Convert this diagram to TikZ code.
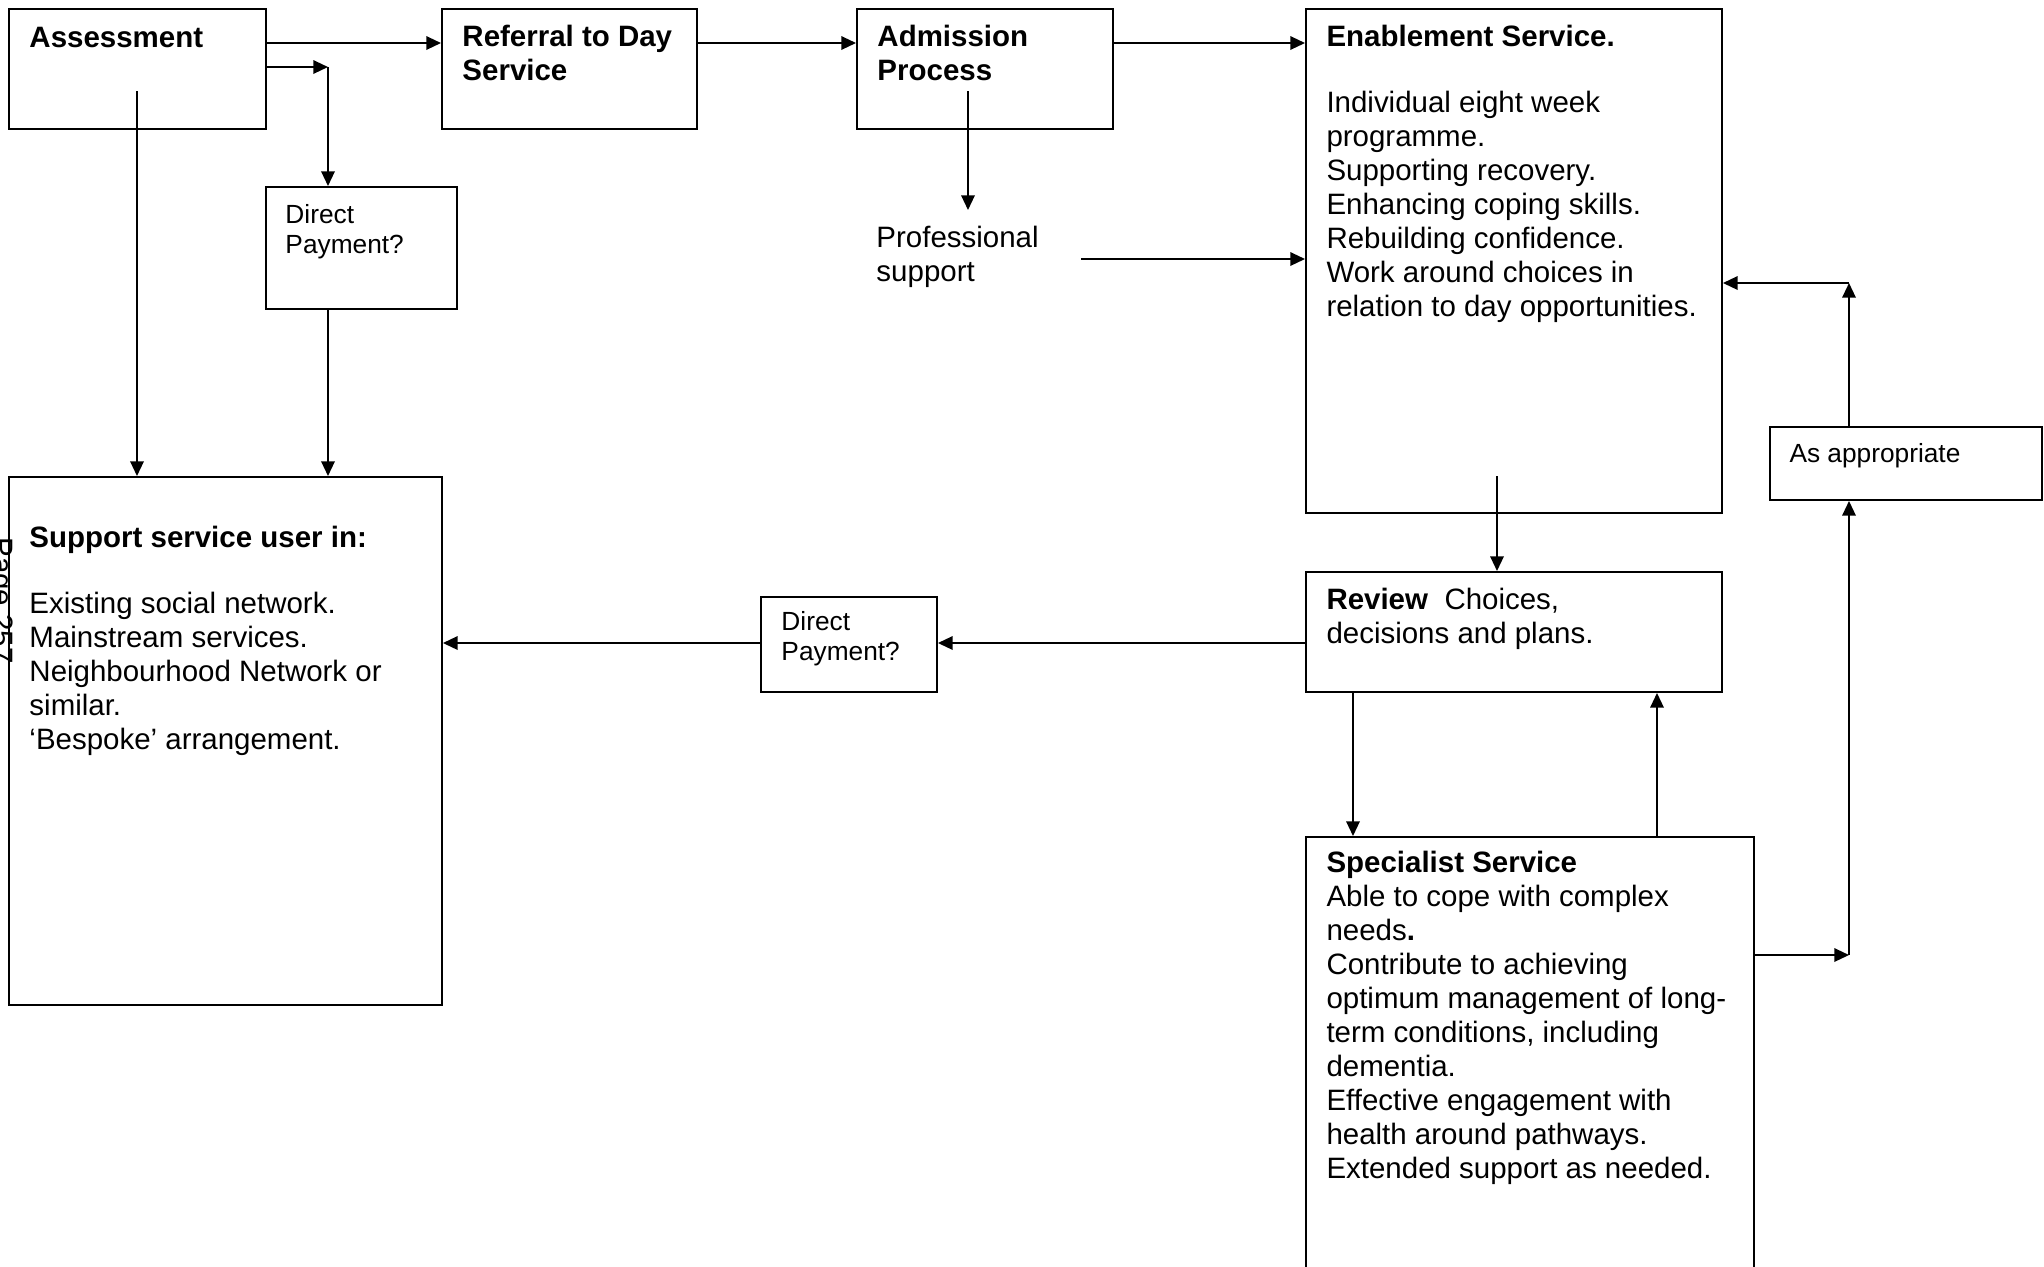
\documentclass[tikz,border=0pt]{standalone}
\usepackage{fontspec}
\setmainfont{Liberation Sans}
\usetikzlibrary{arrows.meta}
\newdimen\pxu \pxu=0.40717pt
\tikzset{
 box/.style={draw, line width=0.8pt, rectangle, inner sep=0pt, anchor=north west},
 arr/.style={line width=0.75pt, -{Triangle[length=6pt,width=5.5pt]}},
 txt/.style={anchor=north west, inner sep=0pt, align=left, font=\fontsize{12}{13.84}\selectfont},
 smalltxt/.style={anchor=north west, inner sep=0pt, align=left, font=\fontsize{10.7}{12.2}\selectfont},
}
\newcommand{\topstrut}{\rule{0pt}{10pt}}
\newcommand{\smstrut}{\rule{0pt}{9pt}}
\begin{document}
\begin{tikzpicture}[x={(0.40717pt,0)}, y={(0,-0.40717pt)}]
\useasboundingbox (0,0) rectangle (2044,1266);
% boxes
\node[box, minimum width=257\pxu, minimum height=120\pxu] (assess) at (8,8) {};
\node[box, minimum width=255\pxu, minimum height=120\pxu] (ref) at (441,8) {};
\node[box, minimum width=256\pxu, minimum height=120\pxu] (adm) at (856,8) {};
\node[box, minimum width=416\pxu, minimum height=504\pxu] (enab) at (1305,8) {};
\node[box, minimum width=191\pxu, minimum height=122\pxu] (dp1) at (265,186) {};
\node[box, minimum width=433\pxu, minimum height=528\pxu] (supp) at (8,476) {};
\node[box, minimum width=176\pxu, minimum height=95\pxu] (dp2) at (760,596) {};
\node[box, minimum width=416\pxu, minimum height=120\pxu] (rev) at (1305,571) {};
\node[box, minimum width=272\pxu, minimum height=73\pxu] (asap) at (1769,426) {};
\node[box, minimum width=448\pxu, minimum height=520\pxu] (spec) at (1305,836) {};
% texts
\node[txt] (tassess) at (29,22.4) {\topstrut\textbf{Assessment}};
\node[txt] (tref) at (462,21.4) {\topstrut\textbf{Referral to Day}\\\textbf{Service}};
\node[txt] (tadm) at (877,21.4) {\topstrut\textbf{Admission}\\\textbf{Process}};
\node[txt] (tenab) at (1326,21.4) {\topstrut\textbf{Enablement Service.}\\[13pt]Individual eight week\\programme.\\Supporting recovery.\\Enhancing coping skills.\\Rebuilding confidence.\\Work around choices in\\relation to day opportunities.};
\node[txt] (tprof) at (876,222.4) {\topstrut Professional\\support};
\node[smalltxt] (tdp1) at (285,200.9) {\smstrut Direct\\Payment?};
\node[txt] (tsupp) at (29,522.4) {\topstrut\textbf{Support service user in:}\\[13pt]Existing social network.\\Mainstream services.\\Neighbourhood Network or\\similar.\\‘Bespoke’ arrangement.};
\node[smalltxt] (tdp2) at (781,607.9) {\smstrut Direct\\Payment?};
\node[txt] (trev) at (1326,584.4) {\topstrut\textbf{Review}\ \ Choices,\\decisions and plans.};
\node[smalltxt] (tasap) at (1789,439.9) {\smstrut As appropriate};
\node[txt] (tspec) at (1326,847.4) {\topstrut\textbf{Specialist Service}\\Able to cope with complex\\needs\textbf{.}\\Contribute to achieving\\optimum management of long-\\term conditions, including\\dementia.\\Effective engagement with\\health around pathways.\\Extended support as needed.};
\node[rotate=-90, anchor=base west, inner sep=0pt, font=\fontsize{12}{14}\selectfont] (page) at (-8,537) {Page 257};
% coordinates
\coordinate (c1) at (328,67);
\coordinate (c2) at (137,91);
\coordinate (c3) at (968,91);
\coordinate (c4) at (968,210);
\coordinate (c5) at (1081,259);
\coordinate (c6) at (1497,476);
\coordinate (c7) at (1849,955);
\coordinate (c8) at (1849,283);
% connectors
\draw[arr] (assess.east |- 0,43) -- (ref.west |- 0,43);
\draw[arr] (assess.east |- c1) -- (c1);
\draw[arr] (c1) -- (c1 |- dp1.north);
\draw[arr] (c2) -- (c2 |- supp.north);
\draw[arr] (c1 |- dp1.south) -- (c1 |- supp.north);
\draw[arr] (ref.east |- 0,43) -- (adm.west |- 0,43);
\draw[arr] (adm.east |- 0,43) -- (enab.west |- 0,43);
\draw[arr] (c3) -- (c4);
\draw[arr] (c5) -- (c5 -| enab.west);
\draw[arr] (c6) -- (c6 |- rev.north);
\draw[arr] (rev.west |- 0,643) -- (dp2.east |- 0,643);
\draw[arr] (dp2.west |- 0,643) -- (supp.east |- 0,643);
\draw[arr] (rev.south -| 1353,0) -- (spec.north -| 1353,0);
\draw[arr] (spec.north -| 1657,0) -- (rev.south -| 1657,0);
\draw[arr] (spec.east |- c7) -- (c7);
\draw[arr] (c7) -- (c7 |- asap.south);
\draw[arr] (asap.north -| c8) -- (c8);
\draw[arr] (c8) -- (c8 -| enab.east);
\end{tikzpicture}
\end{document}
